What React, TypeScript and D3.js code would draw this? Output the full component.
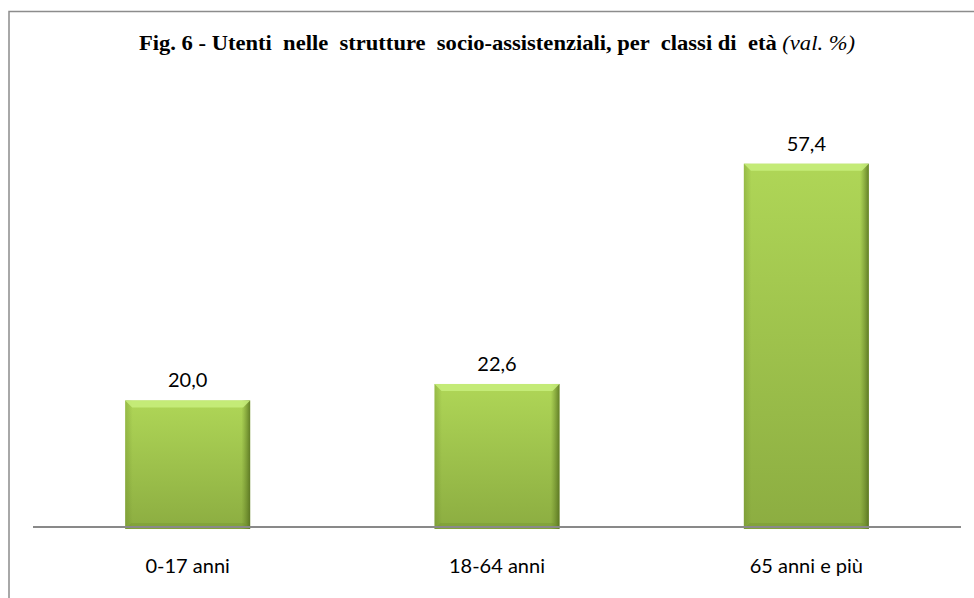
"use client"
import React, { useRef, useEffect } from "react";
import * as d3 from "d3";

const categories: string[] = ["0-17 anni", "18-64 anni", "65 anni e più"];
const values: number[] = [20.0, 22.6, 57.4];
const titleMain = "Fig. 6 - Utenti  nelle  strutture  socio-assistenziali, per  classi di  età ";
const titleUnit = "(val. %)";

export default function App() {
  const chartRef = useRef<SVGSVGElement | null>(null);

  useEffect(() => {
    if (!chartRef.current) return;
    const svg = d3.select(chartRef.current);
    const width = 974;
    const height = 598;
    svg.selectAll("*").remove();
    svg.attr("width", width).attr("height", height);

    // frame (only left and top are visible in the crop)
    svg.append("path")
      .attr("d", `M9,${height} L9,11.5 L${width},11.5`)
      .attr("fill", "none")
      .attr("stroke", "#8c8c8c")
      .attr("stroke-width", 1.5);

    const defs = svg.append("defs");
    const vg = defs.append("linearGradient").attr("id", "barV")
      .attr("x1", 0).attr("y1", 0).attr("x2", 0).attr("y2", 1);
    vg.append("stop").attr("offset", "0%").attr("stop-color", "#afd657");
    vg.append("stop").attr("offset", "100%").attr("stop-color", "#8cad41");

    const hg = defs.append("linearGradient").attr("id", "barH")
      .attr("x1", 0).attr("y1", 0).attr("x2", 1).attr("y2", 0);
    hg.append("stop").attr("offset", "0%").attr("stop-color", "#5f7d22").attr("stop-opacity", 0.3);
    hg.append("stop").attr("offset", "6%").attr("stop-color", "#5f7d22").attr("stop-opacity", 0);
    hg.append("stop").attr("offset", "93%").attr("stop-color", "#5f7d22").attr("stop-opacity", 0);
    hg.append("stop").attr("offset", "100%").attr("stop-color", "#4a6318").attr("stop-opacity", 0.75);

    const x = d3.scaleBand<string>()
      .domain(categories)
      .range([33, 961])
      .paddingInner(0.596)
      .paddingOuter(0.298);
    const y = d3.scaleLinear().domain([0, 70]).range([527, 84]);

    const bars = svg.append("g");
    const bw = x.bandwidth();
    categories.forEach((c, i) => {
      const x0 = x(c)!;
      const y0 = y(values[i]);
      const h = y(0) - y0 + 2;
      bars.append("rect").attr("x", x0).attr("y", y0).attr("width", bw).attr("height", h)
        .attr("fill", "url(#barV)");
      bars.append("rect").attr("x", x0).attr("y", y0).attr("width", bw).attr("height", h)
        .attr("fill", "url(#barH)");
      // top bevel highlight
      bars.append("path")
        .attr("d", `M${x0},${y0} L${x0 + bw},${y0} L${x0 + bw - 7},${y0 + 7} L${x0 + 7},${y0 + 7} Z`)
        .attr("fill", "#c8ee7c")
        .attr("opacity", 0.85);
      // bottom bevel shade
      bars.append("path")
        .attr("d", `M${x0},${y0 + h} L${x0 + bw},${y0 + h} L${x0 + bw - 6},${y0 + h - 6} L${x0 + 6},${y0 + h - 6} Z`)
        .attr("fill", "#6f8f2e")
        .attr("opacity", 0.35);
    });

    // axis line
    svg.append("line")
      .attr("x1", 33).attr("x2", 961)
      .attr("y1", y(0)).attr("y2", y(0))
      .attr("stroke", "#898989")
      .attr("stroke-width", 2);

    // value labels
    svg.append("g").selectAll("text")
      .data(values)
      .join("text")
      .attr("x", (d, i) => x(categories[i])! + bw / 2)
      .attr("y", (d) => y(d) - 13)
      .attr("text-anchor", "middle")
      .attr("font-family", "Lato, 'Open Sans', sans-serif")
      .attr("font-size", 20)
      .attr("fill", "#000")
      .text((d) => d3.format(".1f")(d).replace(".", ","));

    // category labels
    svg.append("g").selectAll("text")
      .data(categories)
      .join("text")
      .attr("x", (d) => x(d)! + bw / 2)
      .attr("y", 573)
      .attr("text-anchor", "middle")
      .attr("font-family", "Lato, 'Open Sans', sans-serif")
      .attr("font-size", 20)
      .attr("fill", "#000")
      .text((d) => d);

    // title
    const t = svg.append("text")
      .attr("x", 497)
      .attr("y", 50)
      .attr("text-anchor", "middle")
      .attr("font-family", "'Liberation Serif', 'Times New Roman', serif")
      .attr("font-size", 21.5)
      .attr("textLength", 716)
      .attr("lengthAdjust", "spacingAndGlyphs")
      .attr("xml:space", "preserve")
      .style("white-space", "pre");
    t.append("tspan").attr("font-weight", "bold").text(titleMain);
    t.append("tspan").attr("font-style", "italic").text(titleUnit);
  }, []);

  return <svg ref={chartRef} style={{ position: "absolute", left: 0, top: 0, background: "#fff" }} />;
}
